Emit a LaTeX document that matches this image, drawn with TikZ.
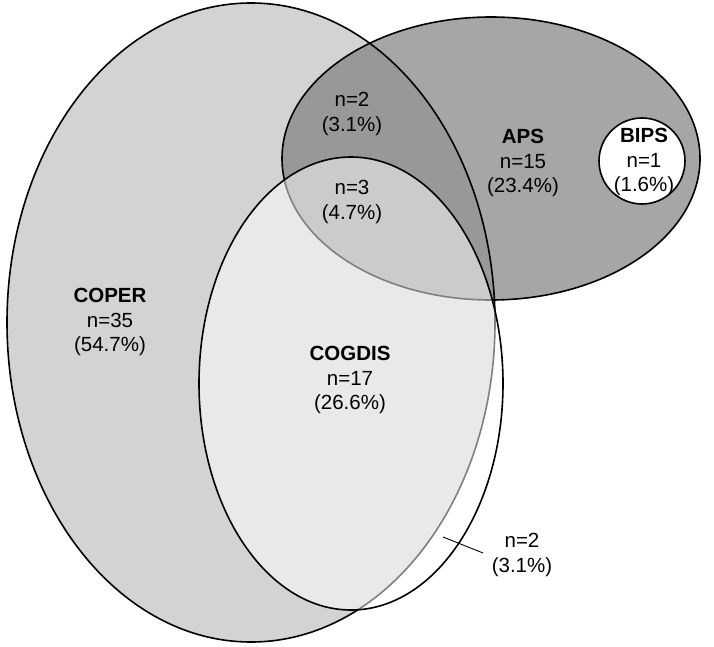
\documentclass[tikz,border=0pt]{standalone}
\usepackage{fontspec}
\setmainfont{Liberation Sans}
\definecolor{copercol}{HTML}{D3D3D3}
\definecolor{apscol}{HTML}{A6A6A6}
\definecolor{bothcol}{HTML}{989898}
\tikzset{
  outline/.style={draw=black, line width=1.6pt},
  lbl/.style={align=center, inner sep=0pt, font=\fontsize{20.5}{24.5}\selectfont},
  leader/.style={draw=black, line width=0.9pt}
}
\newcommand{\coperpath}{(251,322.5) ellipse [x radius=244pt, y radius=319.5pt]}
\newcommand{\apspath}{(491,158.5) ellipse [x radius=209pt, y radius=141.5pt]}
\newcommand{\cogpath}{(351,383.5) ellipse [x radius=152pt, y radius=226.5pt]}
\begin{document}
\begin{tikzpicture}[x=1pt,y=-1pt]
\useasboundingbox (0,0) rectangle (714,647);
% fills
\fill[copercol] \coperpath;
\fill[apscol] \apspath;
\begin{scope}
  \clip \coperpath;
  \fill[bothcol] \apspath;
\end{scope}
% outlines
\draw[outline] \coperpath;
\draw[outline] \apspath;
% COGDIS (semi-transparent white over the others)
\fill[white, fill opacity=0.5] \cogpath;
\draw[outline] \cogpath;
% BIPS
\draw[outline, fill=white] (642,161) circle [radius=43pt];
% labels
\node[lbl] (coper) at (110,322) {\textbf{COPER}\\n=35\\(54.7\%)};
\node[lbl] (aps) at (523,163) {\textbf{APS}\\n=15\\(23.4\%)};
\node[lbl] (bips) at (644,162) {\textbf{BIPS}\\n=1\\(1.6\%)};
\node[lbl] (coperaps) at (352,114) {n=2\\(3.1\%)};
\node[lbl] (all3) at (352,202) {n=3\\(4.7\%)};
\node[lbl] (cogdis) at (350,380) {\textbf{COGDIS}\\n=17\\(26.6\%)};
\node[lbl] (cogonly) at (522,555) {n=2\\(3.1\%)};
% leader line
\coordinate (leadA) at (443,537);
\coordinate (leadB) at (483,553);
\draw[leader] (leadA) -- (leadB);
\end{tikzpicture}
\end{document}
